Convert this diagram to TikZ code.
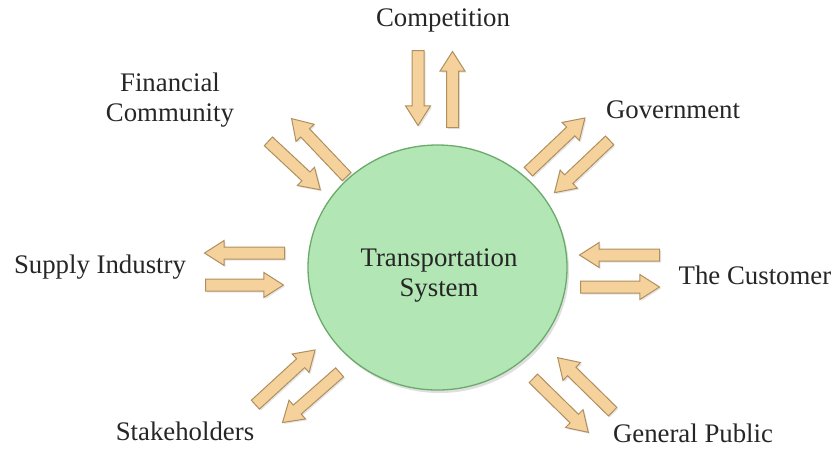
\documentclass[tikz,border=0pt]{standalone}
\usepackage{fontspec}
\setmainfont{Liberation Serif}
\usetikzlibrary{shapes.geometric,shapes.arrows,shadows}

\definecolor{hubfill}{HTML}{B3E6B5}
\definecolor{hubline}{HTML}{6AAA6A}
\definecolor{flowfill}{HTML}{F5D19C}
\definecolor{flowline}{HTML}{B08F5E}

\tikzset{
  hub/.style={ellipse, draw=hubline, fill=hubfill, line width=1.3pt,
    minimum width=259pt, minimum height=245pt, inner sep=0pt,
    drop shadow={opacity=0.25, shadow xshift=2pt, shadow yshift=-3pt}},
  party/.style={text=black!85, align=center, font=\fontsize{26.8}{30}\selectfont},
  flow/.style={single arrow, draw=flowline, fill=flowfill, line width=1pt,
    inner sep=5.5pt, single arrow head extend=6.5pt, single arrow tip angle=65,
    anchor=tail, minimum height=#1,
    drop shadow={opacity=0.2, shadow xshift=1.5pt, shadow yshift=-1.5pt}},
  flow/.default=77pt
}

\begin{document}
\begin{tikzpicture}[x=1pt,y=-1pt]
  \useasboundingbox (0,0) rectangle (834,448);

  % the system in the middle
  \node[hub] (ts) at (437.5,267.5) {};
  \node[party] (tslabel) at (439,276) {Transportation\\System};

  % outside parties
  \node[party] (competition) at (443,20) {Competition};
  \node[party] (financial) at (170,100) {Financial\\Community};
  \node[party] (government) at (673,110) {Government};
  \node[party] (supply) at (100,267) {Supply Industry};
  \node[party] (customer) at (755,275) {The Customer};
  \node[party] (stakeholders) at (185,431) {Stakeholders};
  \node[party] (public) at (693,433) {General Public};

  % two-way flows, each placed at its tail
  \node[flow=75pt, rotate=-90] (comp-in) at (418,50) {};
  \node[flow=76pt, rotate=90] (comp-out) at (452.5,128) {};
  \node[flow=71pt, rotate=-43] (fin-in) at (268,141) {};
  \node[flow=80pt, rotate=133.5] (fin-out) at (347,177) {};
  \node[flow=78pt, rotate=43.5] (gov-out) at (528,172) {};
  \node[flow=76pt, rotate=-136.5] (gov-in) at (610,140) {};
  \node[flow=80pt, rotate=180] (sup-out) at (285,253) {};
  \node[flow=78pt] (sup-in) at (205,285) {};
  \node[flow=80pt, rotate=180] (cus-in) at (660,255) {};
  \node[flow=79pt] (cus-out) at (580,287) {};
  \node[flow=81pt, rotate=42.5] (stk-in) at (255,405) {};
  \node[flow=76pt, rotate=-138.7] (stk-out) at (340,372) {};
  \node[flow=77pt, rotate=135.5] (pub-in) at (613,412) {};
  \node[flow=77pt, rotate=-44.5] (pub-out) at (533,378) {};
\end{tikzpicture}
\end{document}
